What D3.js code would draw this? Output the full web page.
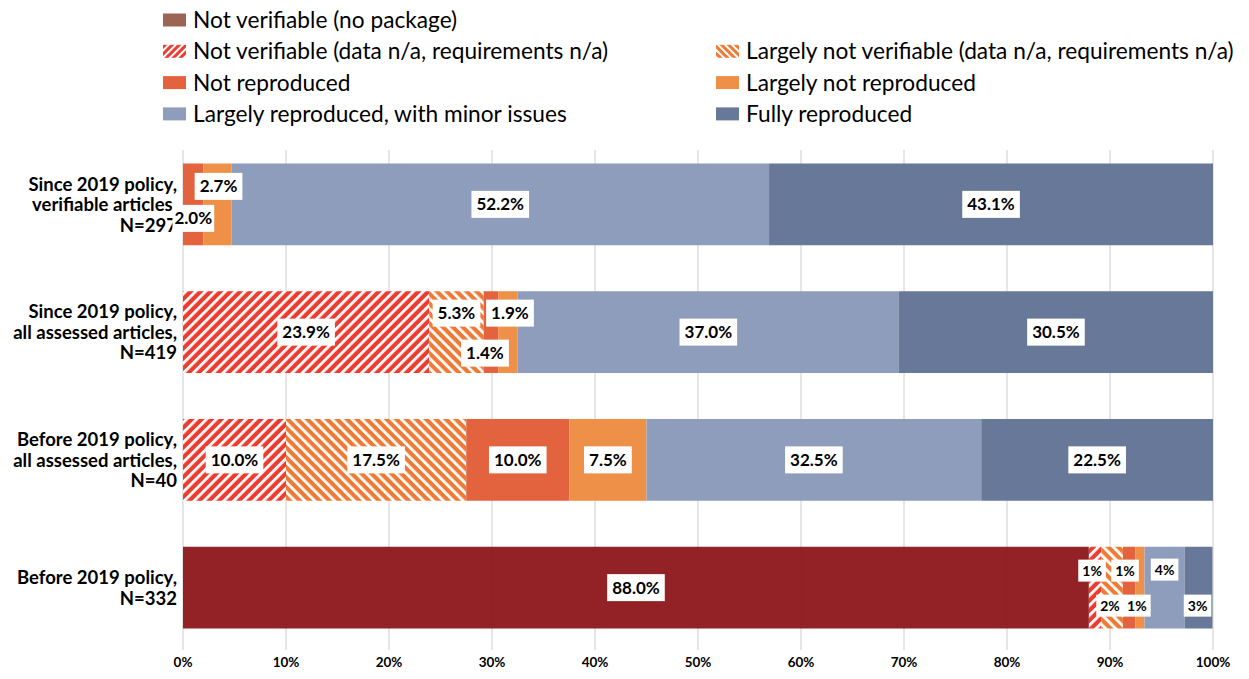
<!DOCTYPE html>
<html>
<head>
<meta charset="utf-8">
<script src="https://cdn.jsdelivr.net/npm/d3@7"></script>
<style>
  body { margin: 0; background: #fff; }
  svg { font-family: Lato, "Open Sans", sans-serif; }
</style>
</head>
<body>
<svg width="1249" height="679"></svg>
<script>
// categories, top to bottom
let categories = [
  ['Since 2019 policy,', 'verifiable articles,', 'N=297'],
  ['Since 2019 policy,', 'all assessed articles,', 'N=419'],
  ['Before 2019 policy,', 'all assessed articles,', 'N=40'],
  ['Before 2019 policy,', 'N=332']
];
let seriesNames = [
  'Not verifiable (no package)',
  'Not verifiable (data n/a, requirements n/a)',
  'Largely not verifiable (data n/a, requirements n/a)',
  'Not reproduced',
  'Largely not reproduced',
  'Largely reproduced, with minor issues',
  'Fully reproduced'
];
// percentages per series, one value per category
let noPackage        = [0, 0, 0, 87.95];
let notVerifiable    = [0, 23.9, 10.0, 1.2];
let largelyNotVerif  = [0, 5.3, 17.5, 2.1];
let notReproduced    = [2.0, 1.4, 10.0, 1.2];
let largelyNotRepro  = [2.7, 1.9, 7.5, 0.9];
let largelyRepro     = [52.2, 37.0, 32.5, 3.9];
let fullyRepro       = [43.1, 30.5, 22.5, 2.7];
// data label texts (null = no label)
let labelTexts = [
  [null, null, null, '2.0%', '2.7%', '52.2%', '43.1%'],
  [null, '23.9%', '5.3%', '1.4%', '1.9%', '37.0%', '30.5%'],
  [null, '10.0%', '17.5%', '10.0%', '7.5%', '32.5%', '22.5%'],
  ['88.0%', '1%', '2%', '1%', '1%', '4%', '3%']
];
let xTicks = [0, 10, 20, 30, 40, 50, 60, 70, 80, 90, 100];

let allSeries = [noPackage, notVerifiable, largelyNotVerif, notReproduced, largelyNotRepro, largelyRepro, fullyRepro];
let fills = ['#8e191c', 'url(#hatchRed)', 'url(#hatchOrange)', '#e3633f', '#ef9049', '#8f9dbc', '#687898'];
let legendFills = ['#9c6553', 'url(#hatchRedL)', 'url(#hatchOrangeL)', '#e3633f', '#ef9049', '#8f9dbc', '#687898'];

// manual label nudges (row, series) -> [dx, dy]
let nudges = {
  '0-3': [0, 14], '0-4': [1, -18],
  '1-2': [0, -19], '1-3': [-6, 21], '1-4': [2, -19],
  '3-1': [-3, -17], '3-2': [-2, 18], '3-3': [-4, -17], '3-4': [-3, 18], '3-5': [0, -18], '3-6': [-1, 18]
};

let svg = d3.select('svg');
let defs = svg.append('defs');

function hatch(id, color, angle, size) {
  let p = defs.append('pattern')
    .attr('id', id)
    .attr('patternUnits', 'userSpaceOnUse')
    .attr('width', size).attr('height', size)
    .attr('patternTransform', 'rotate(' + angle + ')');
  p.append('rect').attr('width', size).attr('height', size).attr('fill', color);
  p.append('rect').attr('width', size * 0.4).attr('height', size).attr('fill', '#fff');
}
hatch('hatchRed', '#ee3b2f', 45, 7);
hatch('hatchOrange', '#ef7a35', -45, 7);
hatch('hatchRedL', '#ee3b2f', 45, 5);
hatch('hatchOrangeL', '#ef7a35', -45, 5);

let x = d3.scaleLinear().domain([0, 100]).range([183, 1213]);
let y = d3.scaleBand().domain(d3.range(categories.length)).range([140.5, 651.5])
  .paddingInner(0.36).paddingOuter(0.18);

// gridlines
svg.append('g')
  .selectAll('line')
  .data(xTicks)
  .join('line')
  .attr('x1', d => x(d)).attr('x2', d => x(d))
  .attr('y1', 150).attr('y2', 650)
  .attr('stroke', '#d9d9d9')
  .attr('stroke-width', 1.3);

// stacked data
let rows = categories.map((c, i) => {
  let r = {idx: i};
  allSeries.forEach((s, k) => { r[k] = s[i]; });
  return r;
});
let stack = d3.stack().keys(d3.range(allSeries.length));
let stacked = stack(rows);

let bars = svg.append('g');
stacked.forEach((layer, k) => {
  bars.append('g')
    .selectAll('rect')
    .data(layer)
    .join('rect')
    .attr('x', d => x(d[0]))
    .attr('y', d => y(d.data.idx))
    .attr('width', d => Math.max(0, x(d[1]) - x(d[0])))
    .attr('height', y.bandwidth())
    .attr('fill', fills[k])
    .attr('fill-opacity', k === 0 ? 0.96 : 1);
});

// category labels
let cat = svg.append('g')
  .attr('font-weight', 'bold')
  .attr('font-size', 18.5)
  .attr('text-anchor', 'end');
categories.forEach((lines, i) => {
  let cy = y(i) + y.bandwidth() / 2;
  let lh = 20.5;
  let top = cy - (lines.length - 1) * lh / 2;
  lines.forEach((l, j) => {
    cat.append('text')
      .attr('x', 177)
      .attr('y', top + j * lh)
      .attr('dy', '0.36em')
      .text(l);
  });
});

// data labels
let labels = svg.append('g')
  .attr('font-weight', 'bold')
  .attr('font-size', 17)
  .attr('fill', '#000');
stacked.forEach((layer, k) => {
  layer.forEach(d => {
    let i = d.data.idx;
    let t = labelTexts[i][k];
    if (!t) return;
    let n = nudges[i + '-' + k] || [0, 0];
    let small = i === 3 && k > 0;
    let cx = x((d[0] + d[1]) / 2) + n[0];
    let cy = y(i) + y.bandwidth() / 2 + n[1];
    let g = labels.append('g');
    let txt = g.append('text')
      .attr('x', cx).attr('y', cy)
      .attr('dy', '0.36em')
      .attr('text-anchor', 'middle')
      .attr('font-size', small ? 14 : null)
      .text(t);
    let bb = txt.node().getBBox();
    let h = small ? 22 : 27;
    let pad = small ? 4 : (i === 0 && k === 3 ? 2 : 5);
    g.insert('rect', 'text')
      .attr('x', bb.x - pad).attr('y', cy - h / 2)
      .attr('width', bb.width + pad * 2).attr('height', h)
      .attr('fill', '#fff');
  });
});

// x tick labels
svg.append('g')
  .attr('font-weight', 'bold')
  .attr('font-size', 13.5)
  .attr('text-anchor', 'middle')
  .selectAll('text')
  .data(xTicks)
  .join('text')
  .attr('x', d => x(d))
  .attr('y', 662)
  .attr('dy', '0.36em')
  .text(d => d + '%');

// legend
let legendPos = [[0, 0], [1, 0], [1, 1], [2, 0], [2, 1], [3, 0], [3, 1]];
let legend = svg.append('g').attr('font-size', 22.7);
seriesNames.forEach((name, k) => {
  let row = legendPos[k][0], col = legendPos[k][1];
  let lx = col === 0 ? 163 : 716;
  let ly = 20 + row * 31.3;
  legend.append('rect')
    .attr('x', lx).attr('y', ly - 6.5)
    .attr('width', 23).attr('height', 13)
    .attr('fill', legendFills[k]);
  legend.append('text')
    .attr('x', lx + 30).attr('y', ly)
    .attr('dy', '0.36em')
    .attr('fill', '#000')
    .text(name);
});
</script>
</body>
</html>
